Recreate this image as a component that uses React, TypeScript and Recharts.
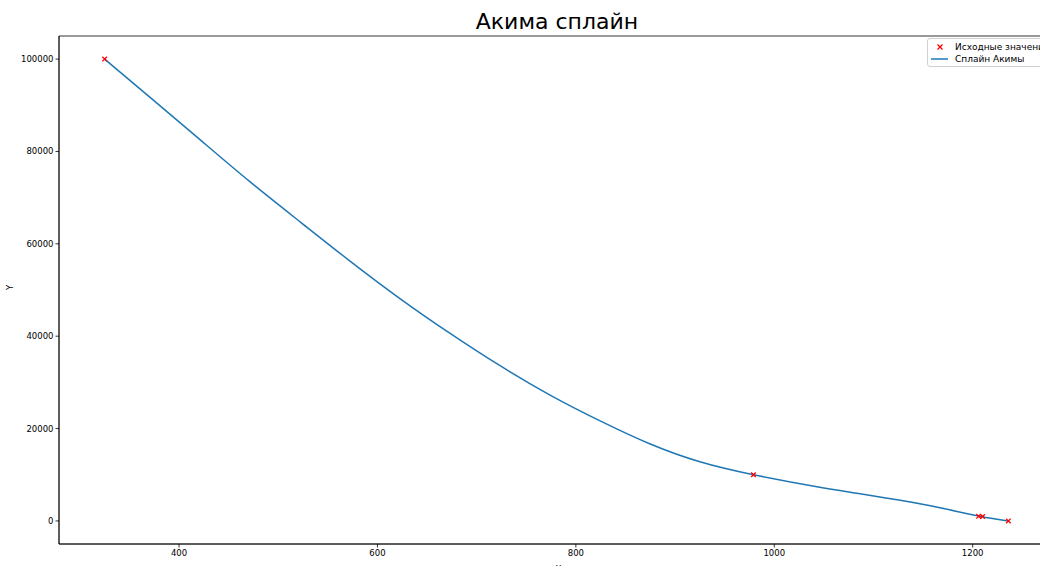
import React from 'react'
import {
  ComposedChart, Line, Scatter, XAxis, YAxis, ReferenceArea, Label,
} from 'recharts'

// source points (red crosses)
const srcX = [325, 979, 1206, 1210, 1236]
const srcY = [100000, 10000, 1000, 950, 0]

// curve
const curveX = [325, 372, 422, 472, 523, 573, 623, 674, 724, 774, 825, 875, 925, 979, 1043, 1085, 1127, 1167, 1207, 1236]
const curveY = [100000, 91500, 82400, 73350, 64600, 56150, 48100, 40500, 33550, 27250, 21600, 16650, 12800, 10000, 7400, 5950, 4450, 2850, 1000, 0]

const xTicks = [400, 600, 800, 1000, 1200]
const yTicks = [0, 20000, 40000, 60000, 80000, 100000]

const points = srcX.map((x, i) => ({ x, y: srcY[i] }))
const curve = curveX.map((x, i) => ({ x, y: curveY[i] }))

const FONT = '"DejaVu Sans", sans-serif'
const tickStyle = { fontSize: 8.5, fill: '#000', fontFamily: FONT }

function Cross(props: any) {
  const { cx, cy } = props
  const s = 2.3
  return (
    <path
      d={`M${cx - s},${cy - s}L${cx + s},${cy + s}M${cx - s},${cy + s}L${cx + s},${cy - s}`}
      stroke="#ff0000"
      strokeWidth={1.3}
      fill="none"
    />
  )
}

function LegendBox() {
  return (
    <div
      style={{
        position: 'absolute', left: 927, top: 38,
        width: 130, height: 29, border: '1px solid #d0d0d0', borderRadius: 3,
        background: 'rgba(255,255,255,0.8)', fontFamily: FONT, fontSize: 9, color: '#000',
        boxSizing: 'border-box', padding: '2px 0 0 0',
      }}
    >
      <div style={{ display: 'flex', alignItems: 'center', height: 12 }}>
        <svg width={27} height={12}>
          <path d="M9.5,3.5L14.5,8.5M9.5,8.5L14.5,3.5" stroke="#ff0000" strokeWidth={1.3} />
        </svg>
        <span style={{ whiteSpace: 'nowrap' }}>Исходные значения</span>
      </div>
      <div style={{ display: 'flex', alignItems: 'center', height: 12 }}>
        <svg width={27} height={12}>
          <line x1={3} y1={6} x2={20} y2={6} stroke="#1f77b4" strokeWidth={1.5} />
        </svg>
        <span style={{ whiteSpace: 'nowrap' }}>Сплайн Акимы</span>
      </div>
    </div>
  )
}

export default function App() {
  return (
    <div style={{ position: 'absolute', left: 0, top: 0, width: 1040, height: 566, overflow: 'hidden', background: '#fff' }}>
      <div
        style={{
          position: 'absolute', left: 357, width: 400, top: 7, textAlign: 'center',
          fontFamily: FONT, fontSize: 22, color: '#000', lineHeight: '30px',
        }}
      >
        Акима сплайн
      </div>
      <ComposedChart
        width={1100}
        height={566}
        margin={{ top: 36, right: 42, bottom: 0, left: 0 }}
        style={{ position: 'absolute', left: 0, top: 0 }}
      >
        <XAxis
          type="number"
          dataKey="x"
          domain={[279, 1286]}
          ticks={xTicks}
          allowDataOverflow
          height={22}
          tickSize={3.5}
          tick={tickStyle}
          stroke="#000"
          tickLine={{ stroke: '#000', strokeWidth: 0.8 }}
          axisLine={{ stroke: '#000', strokeWidth: 0.8 }}
        >
          <Label value="X" position="insideBottom" offset={-6} style={{ fontSize: 8.5, fill: '#000', fontFamily: FONT }} />
        </XAxis>
        <YAxis
          type="number"
          dataKey="y"
          domain={[-5000, 105000]}
          ticks={yTicks}
          allowDataOverflow
          width={59}
          tickSize={3.5}
          tick={tickStyle}
          stroke="#000"
          tickLine={{ stroke: '#000', strokeWidth: 0.8 }}
          axisLine={{ stroke: '#000', strokeWidth: 0.8 }}
        >
          <Label value="Y" angle={-90} position="insideLeft" offset={10} style={{ fontSize: 8.5, fill: '#000', fontFamily: FONT }} />
        </YAxis>
        <ReferenceArea x1={279} x2={1286} y1={-5000} y2={105000} fill="none" stroke="#000" strokeWidth={0.8} fillOpacity={0} />
        <Line
          data={curve}
          dataKey="y"
          type="natural"
          stroke="#1f77b4"
          strokeWidth={1.5}
          dot={false}
          activeDot={false}
          isAnimationActive={false}
          legendType="none"
        />
        <Scatter data={points} dataKey="y" shape={<Cross />} isAnimationActive={false} />
      </ComposedChart>
      <LegendBox />
    </div>
  )
}
